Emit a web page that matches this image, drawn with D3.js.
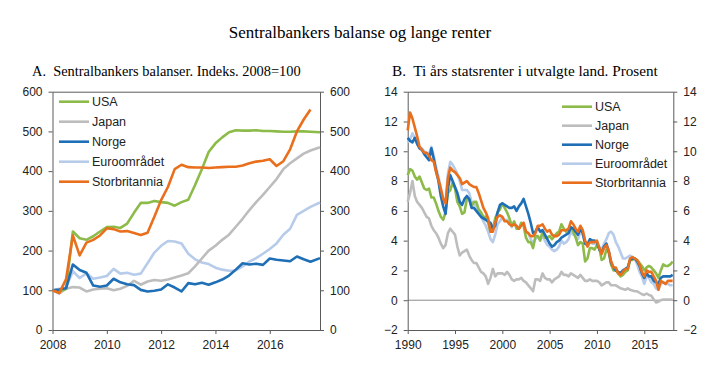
<!DOCTYPE html>
<html>
<head>
<meta charset="utf-8">
<script src="https://cdn.jsdelivr.net/npm/d3@7"></script>
<style>
  body { margin: 0; background: #fff; }
  svg { display: block; }
</style>
</head>
<body>
<div id="chart"></div>
<script>
// =========================
// DATA
// =========================
const seriesNames = ["USA", "Japan", "Norge", "Euroområdet", "Storbritannia"];

// Panel A: quarterly index, 2008 = 100 (last point ends at right axis)
const datesA = [
  2008.00, 2008.25, 2008.50, 2008.75, 2009.00, 2009.25, 2009.50, 2009.75,
  2010.00, 2010.25, 2010.50, 2010.75, 2011.00, 2011.25, 2011.50, 2011.75,
  2012.00, 2012.25, 2012.50, 2012.75, 2013.00, 2013.25, 2013.50, 2013.75,
  2014.00, 2014.25, 2014.50, 2014.75, 2015.00, 2015.25, 2015.50, 2015.75,
  2016.00, 2016.25, 2016.50, 2016.75, 2017.00, 2017.25, 2017.50, 2017.85
];
const usaA = [100, 97, 104, 248, 231, 227, 236, 248, 259, 260, 257, 268, 295, 320, 320, 325,
  322, 320, 313, 322, 328, 365, 405, 448, 470, 485, 498, 503, 502, 502, 503, 501,
  501, 500, 499, 499, 500, 500, 499, 498];
const japanA = [100, 92, 104, 108, 107, 97, 102, 104, 105, 100, 104, 111, 124, 114, 122, 126,
  124, 127, 132, 137, 143, 160, 180, 200, 212, 227, 240, 260, 280, 302, 322, 340,
  360, 380, 405, 420, 432, 444, 452, 460];
const norgeA = [100, 102, 105, 165, 151, 144, 112, 109, 112, 129, 120, 115, 113, 101, 97, 99,
  102, 115, 107, 97, 118, 115, 119, 114, 120, 127, 137, 152, 168, 165, 167, 164,
  180, 177, 175, 173, 185, 178, 172, 181];
const euroA = [100, 104, 107, 148, 131, 143, 129, 132, 136, 154, 142, 144, 139, 142, 168, 195,
  212, 224, 223, 218, 192, 178, 170, 166, 157, 152, 149, 150, 160, 172, 181, 192,
  204, 218, 240, 255, 290, 300, 310, 321];
const ukA = [100, 93, 128, 238, 188, 220, 227, 238, 256, 254, 248, 249, 244, 239, 245, 285,
  327, 360, 405, 416, 410, 409, 409, 408, 409, 410, 411, 411, 414, 420, 424, 426,
  430, 413, 425, 455, 500, 530, 555, null];

// Panel B: ten-year government bond yields, quarterly 1990-2018, percent
const datesB = d3.range(1990, 2018.01, 0.25);
const usaB = [
  8.4, 8.8, 8.7, 8.3,  8.1, 8.3, 7.9, 7.5,  7.4, 7.5, 6.9, 6.9,  6.5, 6.0, 5.6, 5.4,
  5.9, 7.2, 7.4, 7.9,  7.5, 6.6, 6.3, 5.8,  5.9, 6.8, 6.8, 6.3,  6.6, 6.6, 6.1, 5.9,
  5.6, 5.6, 5.2, 4.6,  4.8, 5.5, 5.9, 6.1,  6.5, 6.2, 5.9, 5.5,  5.0, 5.3, 4.8, 4.8,
  5.2, 5.0, 4.2, 3.9,  3.9, 3.5, 4.3, 4.3,  4.0, 4.6, 4.2, 4.2,  4.3, 4.1, 4.3, 4.5,
  4.6, 5.1, 4.8, 4.6,  4.7, 4.9, 4.6, 4.2,  3.7, 3.9, 3.8, 2.6,  2.8, 3.5, 3.5, 3.4,
  3.7, 3.5, 2.7, 2.8,  3.4, 3.2, 2.4, 2.0,  2.0, 1.8, 1.6, 1.7,  1.9, 2.0, 2.7, 2.7,
  2.8, 2.7, 2.5, 2.3,  2.0, 2.2, 2.3, 2.2,  2.0, 1.8, 1.5, 2.0,  2.4, 2.3, 2.3, 2.4,
  2.6];
const japanB = [
  6.6, 7.2, 8.0, 7.0,  6.6, 6.4, 6.2, 5.9,  5.6, 5.5, 5.0, 4.7,  4.5, 4.2, 3.8, 3.5,
  3.7, 4.5, 4.8, 4.6,  4.4, 3.6, 3.0, 3.2,  3.3, 3.4, 3.0, 2.7,  2.5, 2.5, 2.2, 1.9,
  1.8, 1.6, 1.1, 1.5,  2.1, 1.6, 1.8, 1.8,  1.8, 1.7, 1.9, 1.7,  1.4, 1.3, 1.4, 1.4,
  1.5, 1.3, 1.2, 1.0,  0.8, 0.6, 1.4, 1.4,  1.3, 1.8, 1.5, 1.4,  1.4, 1.2, 1.4, 1.5,
  1.6, 1.9, 1.7, 1.7,  1.6, 1.8, 1.7, 1.6,  1.5, 1.7, 1.5, 1.3,  1.3, 1.4, 1.3, 1.3,
  1.3, 1.2, 1.0, 1.1,  1.2, 1.2, 1.0, 1.0,  1.0, 0.9, 0.8, 0.75, 0.7, 0.8, 0.7, 0.65,
  0.6, 0.6, 0.5, 0.4,  0.35, 0.45, 0.35, 0.3,  0.05, -0.15, -0.1, 0.0,  0.05, 0.05, 0.05, 0.05,
  0.05];
const norgeB = [
  10.9, 10.7, 10.6, 10.9,  10.5, 10.2, 10.1, 9.8,  9.6, 9.4, 10.2, 9.5,  8.7, 8.0, 7.0, 6.3,
  5.8, 7.5, 8.4, 8.0,  7.6, 7.2, 6.6, 6.4,  6.8, 7.0, 6.8, 6.2,  6.2, 6.0, 5.8, 5.6,
  5.5, 5.4, 5.3, 5.2,  4.8, 5.0, 5.9, 6.4,  6.5, 6.4, 6.3, 6.2,  6.2, 6.3, 6.0, 6.3,
  6.5, 6.8, 6.3, 5.8,  5.2, 4.5, 4.6, 4.9,  4.6, 4.7, 4.4, 4.1,  3.8, 3.6, 3.7, 3.9,
  4.0, 4.2, 4.3, 4.4,  4.5, 4.9, 4.8, 4.6,  4.4, 4.8, 4.5, 3.8,  3.7, 4.1, 4.0, 4.0,
  3.9, 3.4, 3.2, 3.6,  3.8, 3.3, 2.5, 2.2,  2.0, 1.9, 1.8, 2.0,  2.1, 2.2, 2.7, 2.8,
  2.8, 2.6, 2.3, 1.8,  1.5, 1.8, 1.6, 1.6,  1.3, 1.2, 1.1, 1.5,  1.6, 1.6, 1.6, 1.6,
  1.7];
const euroB = [
  10.6, 10.8, 11.2, 10.9,  10.5, 10.3, 10.2, 10.0,  9.9, 9.8, 10.3, 9.7,  8.9, 8.3, 7.5, 6.8,
  6.5, 8.5, 9.3, 9.1,  8.8, 8.5, 8.0, 7.4,  7.4, 7.4, 7.2, 6.6,  6.5, 6.3, 6.0, 5.6,
  5.3, 5.0, 4.6, 4.1,  3.9, 4.4, 5.1, 5.3,  5.6, 5.4, 5.4, 5.2,  4.9, 5.2, 5.0, 4.8,
  5.1, 5.2, 4.6, 4.5,  4.1, 3.8, 4.1, 4.3,  4.1, 4.3, 4.0, 3.7,  3.6, 3.4, 3.3, 3.4,
  3.6, 4.0, 3.8, 3.9,  4.1, 4.6, 4.4, 4.4,  4.1, 4.6, 4.4, 3.9,  3.9, 4.0, 3.8, 3.8,
  3.8, 3.6, 3.4, 3.8,  4.1, 4.5, 4.6, 4.4,  3.9, 3.6, 3.2, 2.8,  2.8, 2.9, 3.0, 2.9,
  2.8, 2.4, 1.9, 1.6,  1.1, 1.6, 1.5, 1.2,  1.1, 0.8, 0.7, 1.1,  1.2, 1.1, 1.1, 1.0,
  1.0];
const ukB = [
  11.4, 12.6, 12.2, 11.6,  11.0, 10.3, 10.1, 9.9,  9.9, 9.7, 9.4, 9.3,  8.6, 8.1, 7.5, 6.8,
  6.5, 8.2, 8.9, 8.7,  8.6, 8.4, 8.2, 7.8,  7.9, 8.0, 7.8, 7.7,  7.6, 7.6, 7.2, 6.7,
  6.2, 5.9, 5.5, 4.6,  4.6, 5.2, 5.6, 5.7,  5.6, 5.3, 5.3, 5.1,  5.0, 5.1, 5.0, 4.8,
  5.0, 5.2, 4.6, 4.5,  4.3, 4.3, 4.5, 5.0,  5.0, 5.1, 4.8, 4.6,  4.7, 4.4, 4.3, 4.3,
  4.4, 4.7, 4.7, 4.7,  4.8, 5.3, 5.1, 4.8,  4.6, 5.0, 4.7, 4.0,  3.6, 3.9, 3.9, 3.9,
  4.0, 3.5, 3.1, 3.5,  3.7, 3.3, 2.6, 2.2,  2.2, 1.8, 1.7, 1.9,  2.1, 2.1, 2.8, 2.9,
  2.8, 2.7, 2.4, 1.9,  1.6, 2.0, 1.9, 1.9,  1.6, 1.3, 0.7, 1.3,  1.2, 1.1, 1.3, 1.3,
  1.3];

const ticksA = [0, 100, 200, 300, 400, 500, 600];
const yearTicksA = [2008, 2010, 2012, 2014, 2016];
const ticksB = [-2, 0, 2, 4, 6, 8, 10, 12, 14];
const yearTicksB = [1990, 1995, 2000, 2005, 2010, 2015];

// =========================
// SETUP
// =========================
const W = 719, H = 366;
const color = d3.scaleOrdinal()
  .domain(seriesNames)
  .range(["#8dbb4a", "#bdbdbd", "#1f6fb6", "#b7cbea", "#ea6f1c"]);
const drawOrder = ["Euroområdet", "Japan", "USA", "Norge", "Storbritannia"];
const sans = "'Liberation Sans', Arial, sans-serif";
const serif = "'Liberation Serif', 'Times New Roman', serif";
const axisColor = "#5a5a5a";

const svg = d3.select("#chart").append("svg")
  .attr("width", W)
  .attr("height", H);

svg.append("text")
  .attr("x", 360)
  .attr("y", 38)
  .attr("text-anchor", "middle")
  .style("font-family", serif)
  .style("font-size", "17px")
  .style("fill", "#000")
  .text("Sentralbankers balanse og lange renter");

function panel(opts) {
  const x = d3.scaleLinear().domain(opts.xDomain).range([opts.left, opts.right]);
  const y = d3.scaleLinear().domain(opts.yDomain).range([opts.bottom, opts.top]);
  const g = svg.append("g");

  // title
  g.append("text")
    .attr("x", opts.titleX)
    .attr("y", 76)
    .style("font-family", serif)
    .style("font-size", opts.titleSize)
    .attr("xml:space", "preserve")
    .text(opts.title);

  // zero line
  if (opts.zeroLine) {
    g.append("line")
      .attr("x1", opts.left).attr("x2", opts.right)
      .attr("y1", y(0)).attr("y2", y(0))
      .attr("stroke", "#8c8c8c")
      .attr("stroke-width", 1);
  }

  // axes
  const styleAxis = sel => {
    sel.select(".domain").attr("stroke", axisColor);
    sel.selectAll(".tick line").attr("stroke", axisColor);
    sel.selectAll("text")
      .style("font-family", sans)
      .style("font-size", "12px")
      .style("fill", "#222");
  };

  g.append("g")
    .attr("transform", `translate(${opts.left},0)`)
    .call(d3.axisLeft(y).tickValues(opts.yTicks).tickSize(4).tickPadding(6).tickSizeOuter(0))
    .call(styleAxis);

  g.append("g")
    .attr("transform", `translate(${opts.right},0)`)
    .call(d3.axisRight(y).tickValues(opts.yTicks).tickSize(4).tickPadding(6).tickSizeOuter(0))
    .call(styleAxis);

  g.append("g")
    .attr("transform", `translate(0,${opts.bottom})`)
    .call(d3.axisBottom(x).tickValues(opts.xTicks).tickFormat(d3.format("d")).tickSize(4).tickPadding(6).tickSizeOuter(0))
    .call(styleAxis);

  // top border
  g.append("line")
    .attr("x1", opts.left).attr("x2", opts.right)
    .attr("y1", opts.top + 0.5).attr("y2", opts.top + 0.5)
    .attr("stroke", axisColor);

  // lines
  const line = d3.line()
    .defined(d => d.v != null)
    .x(d => x(d.t))
    .y(d => y(d.v));

  drawOrder.forEach(name => {
    const vals = opts.series[name];
    const pts = opts.dates.map((t, i) => ({ t, v: vals[i] }));
    g.append("path")
      .datum(pts)
      .attr("fill", "none")
      .attr("stroke", color(name))
      .attr("stroke-width", 2.6)
      .attr("stroke-linejoin", "round")
      .attr("d", line);
  });

  // legend
  seriesNames.forEach((name, i) => {
    const ly = opts.legendY + i * opts.legendStep;
    g.append("line")
      .attr("x1", opts.legendX).attr("x2", opts.legendX + 30)
      .attr("y1", ly).attr("y2", ly)
      .attr("stroke", color(name))
      .attr("stroke-width", 2.6);
    g.append("text")
      .attr("x", opts.legendX + 33)
      .attr("y", ly + 4.5)
      .style("font-family", sans)
      .style("font-size", "12.5px")
      .style("fill", "#222")
      .text(name);
  });
}

// =========================
// PANEL A
// =========================
panel({
  left: 52.5, right: 320, top: 91.7, bottom: 330,
  xDomain: [2008, 2017.85], yDomain: [0, 600],
  xTicks: yearTicksA, yTicks: ticksA,
  dates: datesA,
  series: { "USA": usaA, "Japan": japanA, "Norge": norgeA, "Euroområdet": euroA, "Storbritannia": ukA },
  title: "A.  Sentralbankers balanser. Indeks. 2008=100",
  titleX: 32, titleSize: "14.4px",
  legendX: 59, legendY: 101.7, legendStep: 20
});

// =========================
// PANEL B
// =========================
panel({
  left: 407.7, right: 673.3, top: 91.7, bottom: 330,
  xDomain: [1990, 2018.07], yDomain: [-2, 14],
  xTicks: yearTicksB, yTicks: ticksB,
  dates: datesB,
  series: { "USA": usaB, "Japan": japanB, "Norge": norgeB, "Euroområdet": euroB, "Storbritannia": ukB },
  title: "B.  Ti års statsrenter i utvalgte land. Prosent",
  titleX: 392, titleSize: "15.2px",
  zeroLine: true,
  legendX: 562, legendY: 106.7, legendStep: 19
});
</script>
</body>
</html>
